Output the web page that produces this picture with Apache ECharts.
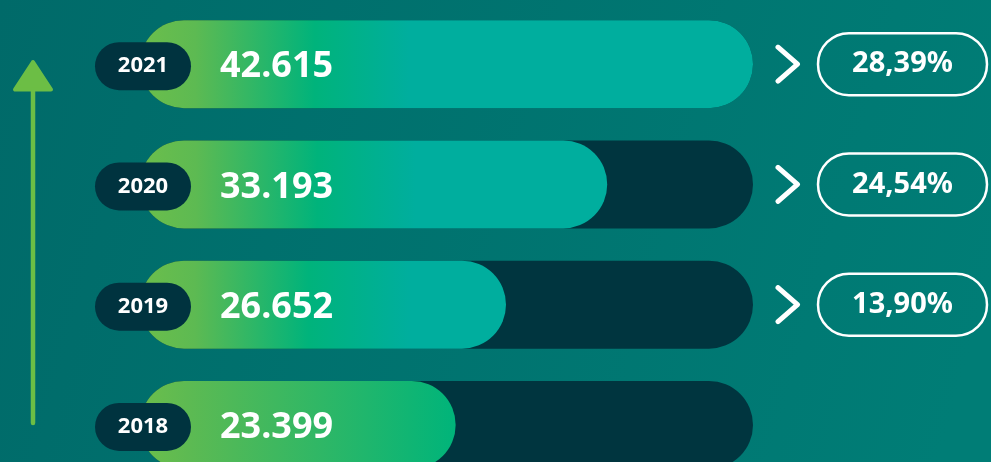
<!DOCTYPE html>
<html>
<head>
<meta charset="utf-8">
<script src="https://cdn.jsdelivr.net/npm/echarts@6/dist/echarts.min.js"></script>
<style>
  html, body { margin: 0; padding: 0; background: #00706D; }
  #chart { width: 991px; height: 462px; }
</style>
</head>
<body>
<div id="chart"></div>
<script>
// ---- data ----
const years = ['2018', '2019', '2020', '2021'];
const values = [23399, 26652, 33193, 42615];
const growth = [null, 13.90, 24.54, 28.39];

// ---- style ----
const GREEN = '#6CBE4B', EMERALD = '#00B37B', TEAL = '#00AE9E';
const TRACK = '#00353F';
const FONT = '"Noto Sans", "Open Sans", sans-serif';
const gradStops = [
  [[0, GREEN], [0.15, '#5DBA52'], [1, '#00B47A']],
  [[0, GREEN], [0.15, '#5DBA52'], [0.46, EMERALD], [0.74, TEAL], [1, TEAL]],
  [[0, GREEN], [0.12, '#5DBA52'], [0.38, EMERALD], [0.59, TEAL], [1, TEAL]],
  [[0, GREEN], [0.09, '#5DBA52'], [0.285, EMERALD], [0.44, TEAL], [1, TEAL]]
];

const chevronSvg = 'data:image/svg+xml;utf8,' + encodeURIComponent(
  '<svg xmlns="http://www.w3.org/2000/svg" width="26" height="40" viewBox="0 0 26 40">' +
  '<polyline points="3,3 22.5,20 3,37" fill="none" stroke="#ffffff" stroke-width="5" ' +
  'stroke-linecap="round" stroke-linejoin="round"/></svg>');

function fmtThousands(v) {
  return String(v).replace(/\B(?=(\d{3})+(?!\d))/g, '.');
}
function fmtPct(v) {
  return v.toFixed(2).replace('.', ',') + '%';
}

const maxVal = Math.max.apply(null, values);

const chart = echarts.init(document.getElementById('chart'), null, { renderer: 'canvas' });

chart.setOption({
  animation: false,
  backgroundColor: {
    type: 'linear', x: 0, y: 0, x2: 1, y2: 0.6,
    colorStops: [{ offset: 0, color: '#006A69' }, { offset: 1, color: '#007D76' }]
  },
  grid: { left: 140, right: 238, top: 4, height: 481, containLabel: false, outerBoundsMode: 'none' },
  xAxis: {
    type: 'value', min: 3000, max: maxVal, startValue: 3000, show: false,
    splitLine: { show: false }
  },
  yAxis: {
    type: 'category', data: years,
    axisLine: { show: false }, axisTick: { show: false }, splitLine: { show: false },
    axisLabel: { show: false }
  },
  graphic: [
    {
      type: 'line', z: 5,
      shape: { x1: 33, y1: 86, x2: 33, y2: 423 },
      style: { stroke: '#6CBE45', lineWidth: 4.5, lineCap: 'round' }
    },
    {
      type: 'polygon', z: 5,
      shape: { points: [[33, 62], [15, 89.5], [51, 89.5]] },
      style: { fill: '#6CBE45', stroke: '#6CBE45', lineWidth: 4, lineJoin: 'round' }
    }
  ],
  series: [
    {
      name: 'track',
      type: 'bar',
      barWidth: 88,
      barGap: '-100%',
      silent: true,
      z: 1,
      data: values.map(() => maxVal),
      itemStyle: { color: TRACK, borderRadius: 44 },
      label: {
        show: true,
        position: 'right',
        distance: 22,
        formatter: (p) => growth[p.dataIndex] == null ? '' :
          '{c| }{g| }{p|' + fmtPct(growth[p.dataIndex]) + '}',
        rich: {
          c: {
            width: 26, height: 40, verticalAlign: 'middle',
            backgroundColor: { image: chevronSvg }
          },
          g: { width: 17, height: 10, verticalAlign: 'middle' },
          p: {
            width: 169, height: 62, lineHeight: 62, align: 'center', verticalAlign: 'middle',
            color: '#ffffff', fontFamily: FONT, fontWeight: 'bold', fontSize: 29,
            borderColor: '#ffffff', borderWidth: 2.5, borderRadius: 32
          }
        }
      }
    },
    {
      name: 'value',
      type: 'bar',
      barWidth: 88,
      z: 2,
      data: values.map((v, i) => ({
        value: v,
        itemStyle: {
          color: new echarts.graphic.LinearGradient(0, 0, 1, 0,
            gradStops[i].map(s => ({ offset: s[0], color: s[1] })))
        }
      })),
      itemStyle: { borderRadius: 44 },
      label: {
        show: true,
        position: [80, '50%'],
        offset: [0, 3],
        align: 'left',
        verticalAlign: 'middle',
        color: '#ffffff',
        fontFamily: FONT,
        fontWeight: 'bold',
        fontSize: 36,
        formatter: (p) => fmtThousands(p.value)
      }
    },
    {
      name: 'year',
      type: 'bar',
      barWidth: 88,
      barGap: '-100%',
      silent: true,
      z: 3,
      data: values.map(() => maxVal),
      itemStyle: { color: 'rgba(0,0,0,0)' },
      label: {
        show: true,
        position: [3, '50%'],
        offset: [0, 2],
        align: 'center',
        verticalAlign: 'middle',
        formatter: (p) => years[p.dataIndex],
        color: '#ffffff',
        fontFamily: FONT,
        fontWeight: 'bold',
        fontSize: 22,
        backgroundColor: '#00333F',
        borderRadius: 24,
        width: 96,
        height: 44,
        lineHeight: 44,
        padding: [4, 0, 0, 0]
      }
    }
  ]
});
</script>
</body>
</html>
